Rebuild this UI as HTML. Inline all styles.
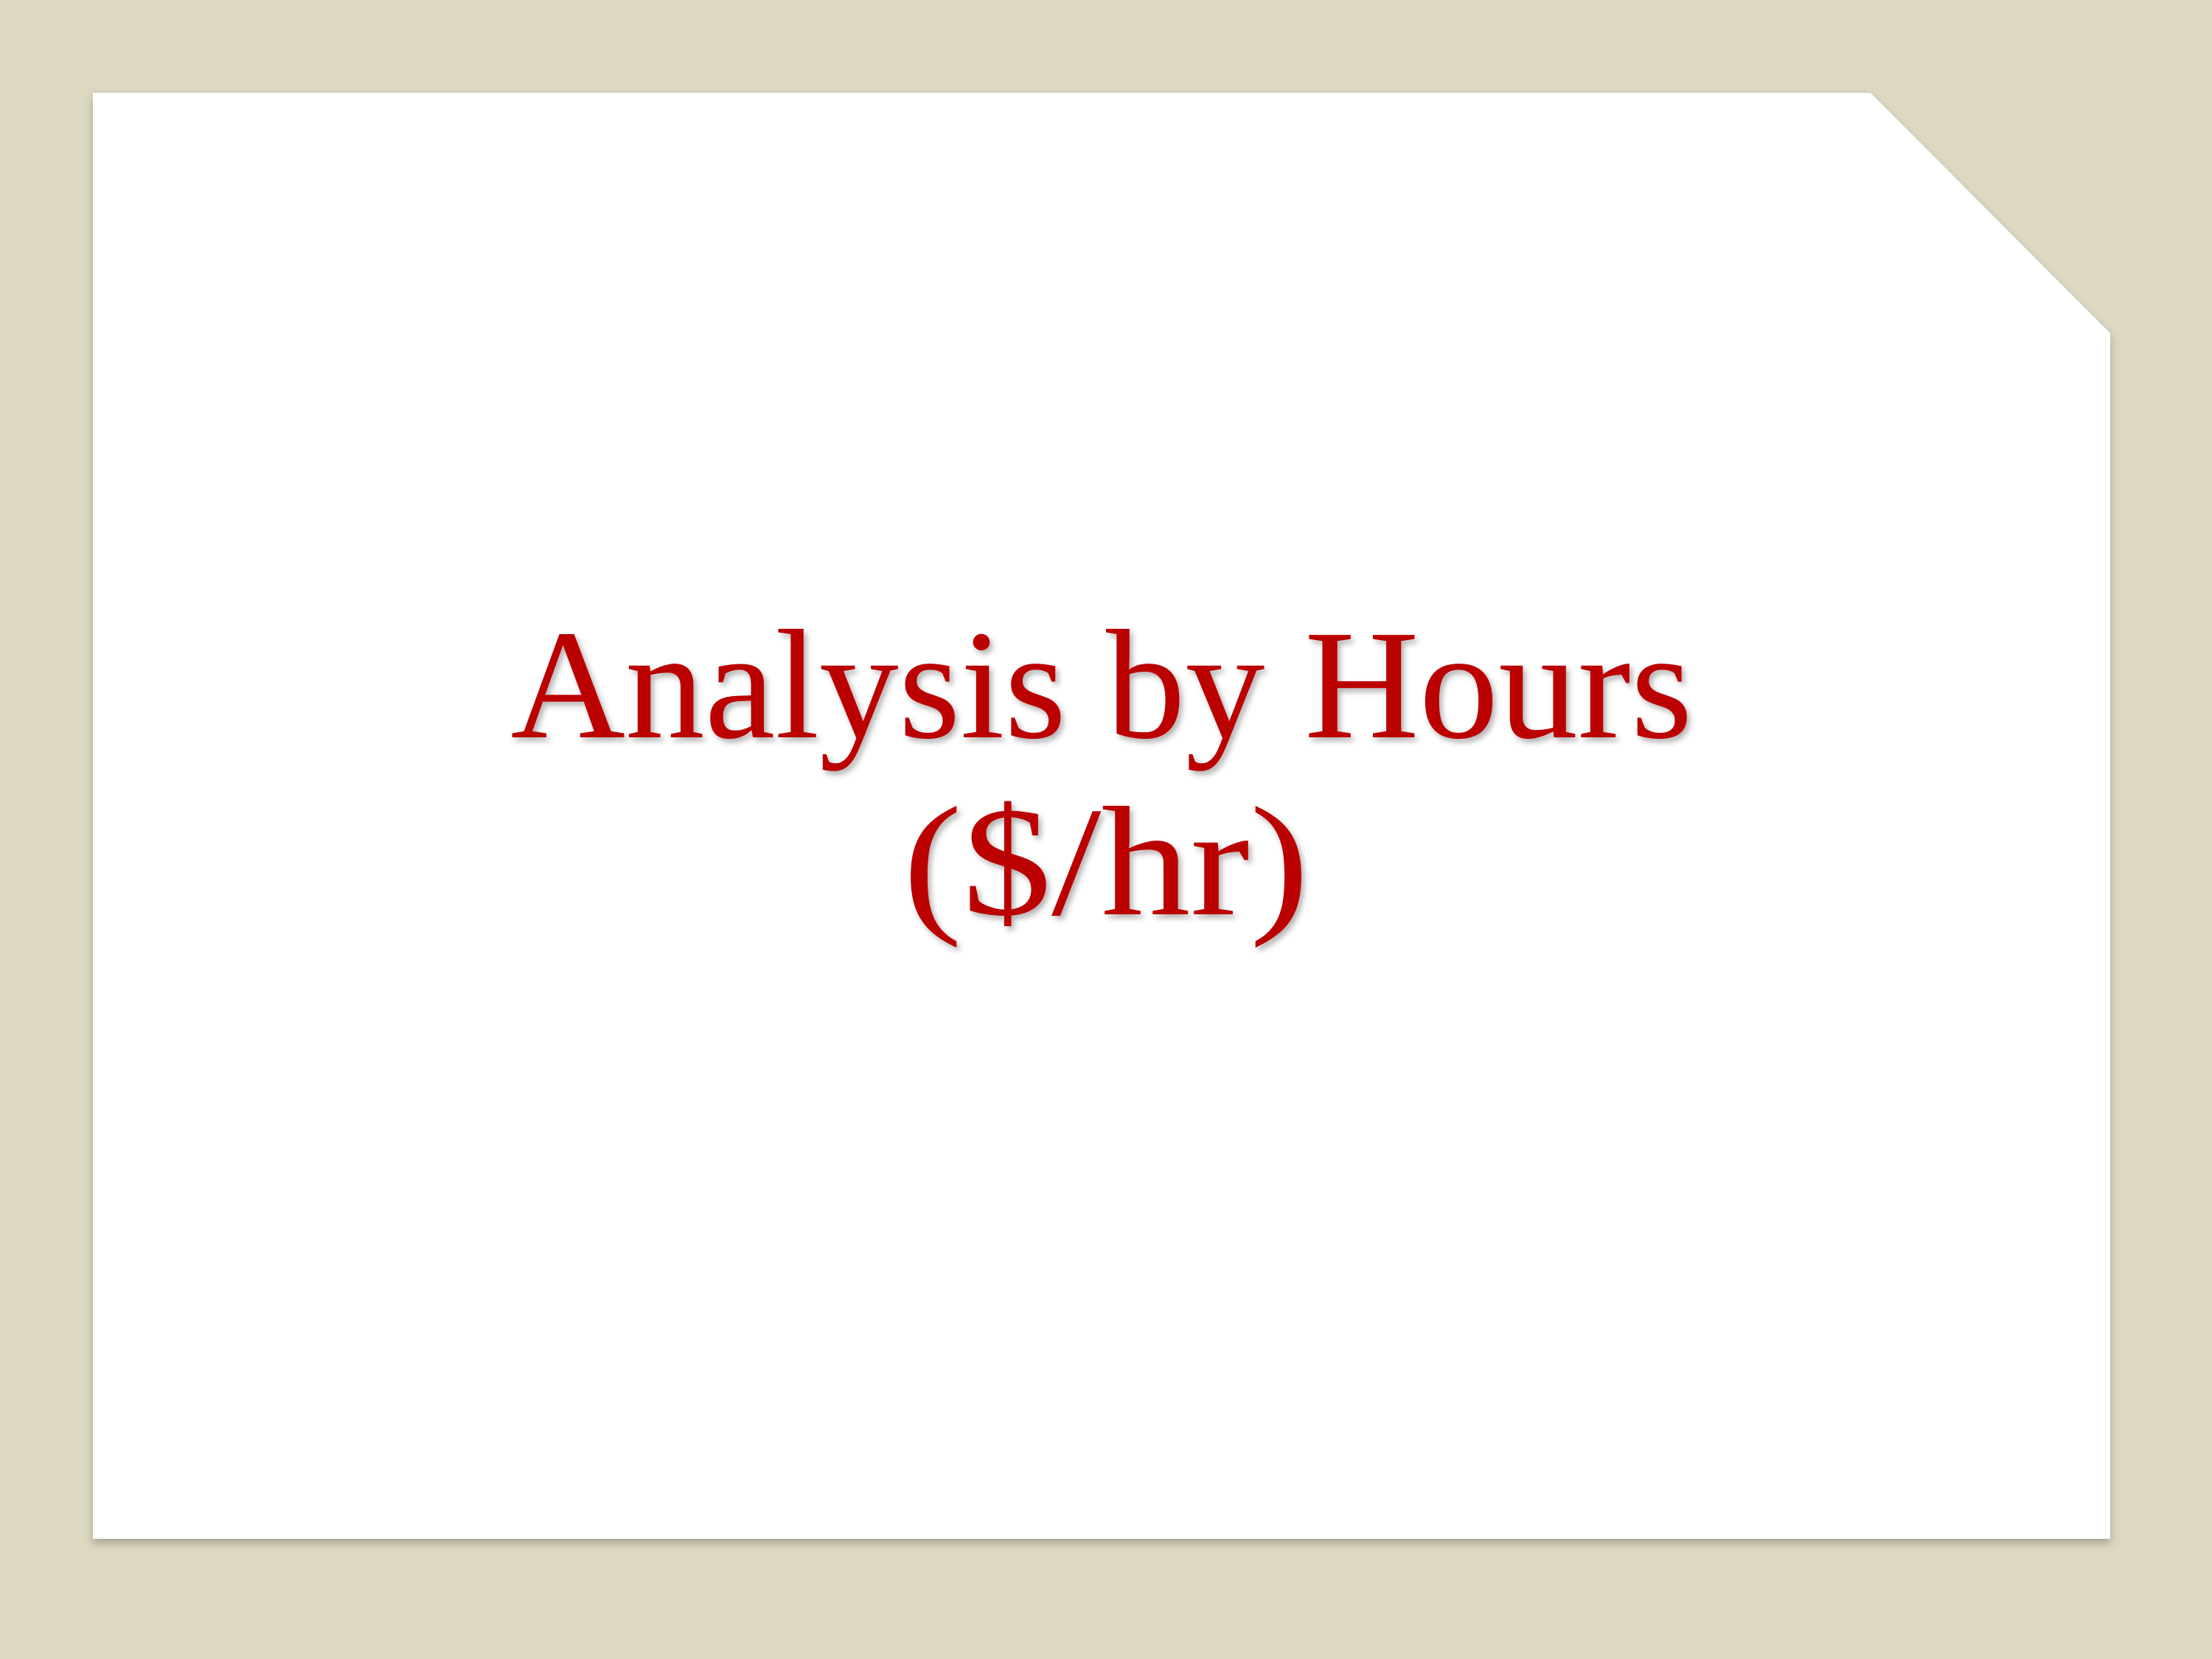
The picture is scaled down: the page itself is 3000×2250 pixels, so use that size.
<!DOCTYPE html>
<html><head><meta charset="utf-8"><style>
html,body{margin:0;padding:0;width:3000px;height:2250px;background:#ddd8c2;overflow:hidden}
</style></head><body>
<svg width="3000" height="2250" viewBox="0 0 3000 2250">
<defs>
<filter id="sh" x="-5%" y="-5%" width="110%" height="110%"><feDropShadow dx="0" dy="6" stdDeviation="6" flood-color="#000" flood-opacity="0.25"/></filter>
<filter id="tsh"><feDropShadow dx="4" dy="5" stdDeviation="4" flood-color="#000" flood-opacity="0.3"/></filter>
</defs>
<polygon points="126,126 2537,126 2862,452 2862,2087 126,2087" fill="#fff" filter="url(#sh)"/>
<g filter="url(#tsh)" fill="#bb0000" font-family="'Liberation Serif', serif" font-size="212" text-anchor="middle">
<text x="1494" y="1000" textLength="1603" lengthAdjust="spacingAndGlyphs">Analysis by Hours</text>
<text x="1500" y="1240" textLength="551" lengthAdjust="spacingAndGlyphs">($/hr)</text>
</g>
</svg>
</body></html>
